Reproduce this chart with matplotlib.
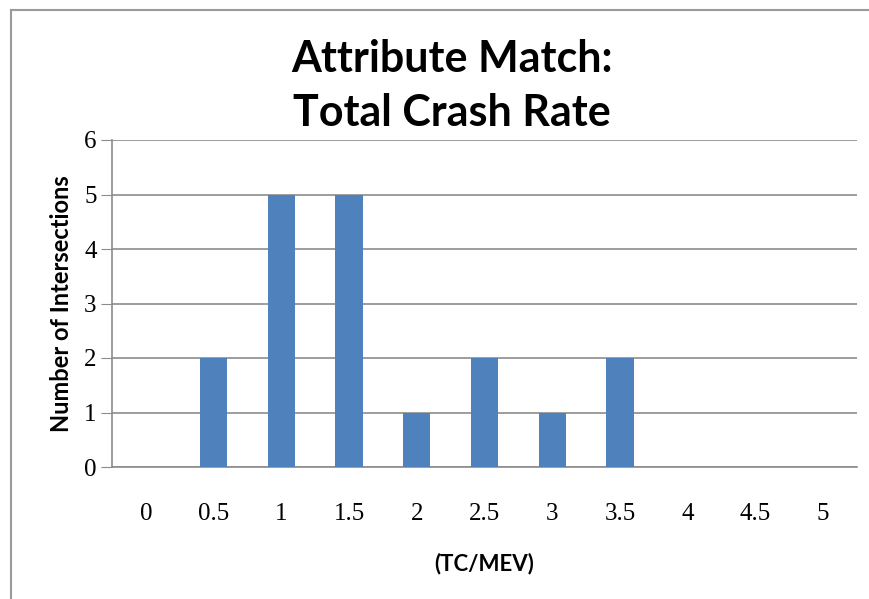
import numpy as np
import matplotlib
matplotlib.use('Agg')
import matplotlib.pyplot as plt
from matplotlib.lines import Line2D

# chart data
categories = ['0', '0.5', '1', '1.5', '2', '2.5', '3', '3.5', '4', '4.5', '5']
counts = [0, 2, 5, 5, 1, 2, 1, 2, 0, 0, 0]
y_ticks = [0, 1, 2, 3, 4, 5, 6]

bar_color = '#4F81BD'
grid_color = '#8C8C8C'

fig = plt.figure(figsize=(8.7, 5.99), dpi=100)
ax = fig.add_axes([112 / 870, 1 - 467 / 599, (857 - 112) / 870, (467 - 140) / 599])

x = np.arange(len(categories))
ax.bar(x, counts, width=0.4, color=bar_color, zorder=3)

ax.set_xlim(-0.5, len(categories) - 0.5)
ax.set_ylim(0, 6)
ax.set_yticks(y_ticks)
ax.set_yticklabels([str(v) for v in y_ticks], family='Liberation Serif', fontsize=18)
ax.set_xticks(x)
ax.set_xticklabels(categories, family='Liberation Serif', fontsize=18)
ax.tick_params(axis='x', length=0, pad=26)
ax.tick_params(axis='y', length=8, color=grid_color, pad=3)

ax.yaxis.grid(True, color=grid_color, linewidth=1.2, zorder=0)
for side in ['top', 'right']:
    ax.spines[side].set_visible(False)
for side in ['left', 'bottom']:
    ax.spines[side].set_color(grid_color)
    ax.spines[side].set_linewidth(1.2)

ax.set_ylabel('Number of Intersections', family='Lato', fontweight='bold',
              fontsize=17, labelpad=8)
ax.set_xlabel('(TC/MEV)', family='Lato', fontweight='bold', fontsize=16, labelpad=20)

fig.text(452 / 870, 1 - 86 / 599, 'Attribute Match:\nTotal Crash Rate',
         ha='center', va='center', family='Lato', fontweight='bold',
         fontsize=31, linespacing=1.4)

# outer chart frame
fig.add_artist(Line2D([11 / 870, 11 / 870], [0, 1 - 10 / 599],
                      transform=fig.transFigure, color='#9A9A9A', linewidth=1.5))
fig.add_artist(Line2D([11 / 870, 1], [1 - 10 / 599, 1 - 10 / 599],
                      transform=fig.transFigure, color='#9A9A9A', linewidth=1.5))

plt.savefig('out.png', dpi=100)
